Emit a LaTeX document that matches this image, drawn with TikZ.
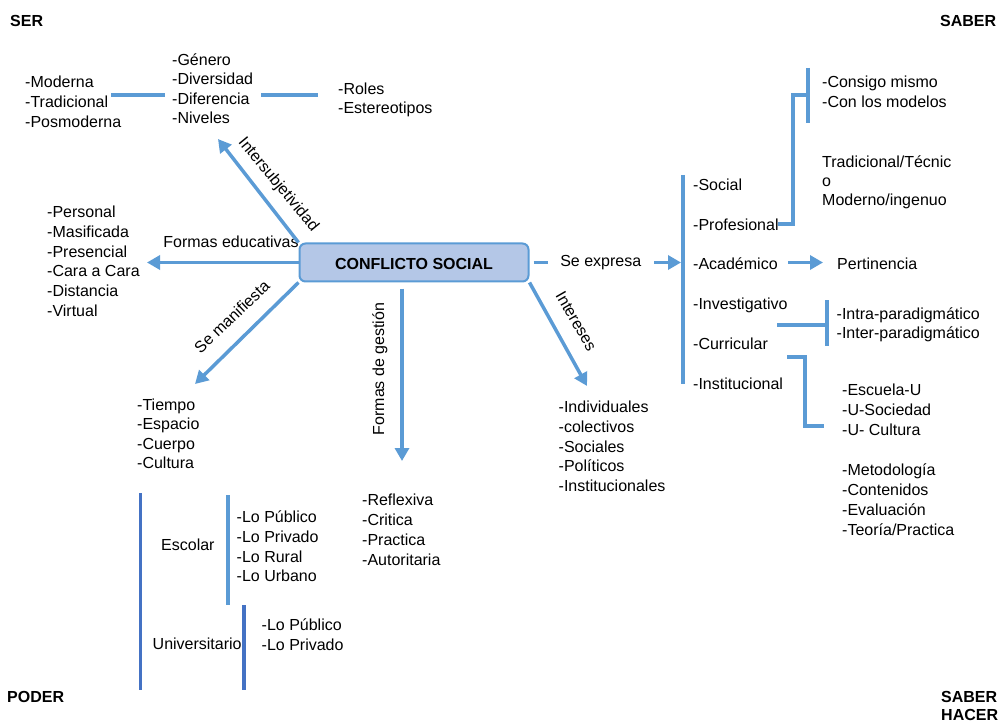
\documentclass[tikz,border=0pt]{standalone}
\usepackage{fontspec}
\setmainfont{Liberation Sans}
\usetikzlibrary{arrows.meta,calc}
\definecolor{bl}{HTML}{5B9BD5}
\definecolor{dbl}{HTML}{4472C4}
\definecolor{boxfill}{HTML}{B4C7E7}
\begin{document}
\begin{tikzpicture}[x=1pt,y=-1pt,
  txt/.style={font=\fontsize{16}{19.8}\selectfont, inner sep=0pt, anchor=north west, align=left},
  tgt/.style={font=\fontsize{16}{19.3}\selectfont, inner sep=0pt, anchor=north west, align=left},
  hd/.style={font=\fontsize{16}{18.3}\selectfont\bfseries, inner sep=0pt, anchor=north west, align=left},
  lbl/.style={font=\fontsize{16}{19.8}\selectfont, inner sep=0pt, text height=11.5pt, text depth=3.5pt},
  arr/.style={draw=bl, line width=3.5pt, -{Triangle[length=13pt,width=14pt]}},
  ln/.style={draw=bl, line width=3.5pt},
  dln/.style={draw=dbl, line width=3.5pt},
  cbox/.style={draw=bl, line width=2pt, fill=boxfill, rounded corners=6pt, minimum width=229pt, minimum height=38pt, inner sep=0pt, text height=14.5pt, text depth=0pt, font=\fontsize{16}{19}\selectfont\bfseries}
]
\useasboundingbox (0,0) rectangle (999,722);

% corner headings
\node[hd] (ser) at (10,13) {\strut SER};
\node[hd] (saber) at (940,13) {\strut SABER};
\node[hd] (poder) at (7,689.5) {\strut PODER};
\node[hd] (sh) at (941,689) {\strut SABER\\HACER};

% central box
\node[cbox] (box) at (414,262.5) {CONFLICTO SOCIAL};

% text blocks
\node[txt] (modern) at (25,73.5) {\strut -Moderna\\-Tradicional\\-Posmoderna};
\node[tgt] (genero) at (172,51.8) {\strut -Género\\-Diversidad\\-Diferencia\\-Niveles};
\node[txt] (roles) at (338,80) {\strut -Roles\\-Estereotipos};
\node[txt] (personal) at (47,203.5) {\strut -Personal\\-Masificada\\-Presencial\\-Cara a Cara\\-Distancia\\-Virtual};
\node[tgt] (tiempo) at (137,396.8) {\strut -Tiempo\\-Espacio\\-Cuerpo\\-Cultura};
\node[txt] (reflex) at (362,491.8) {\strut -Reflexiva\\-Critica\\-Practica\\-Autoritaria};
\node[txt] (indiv) at (558.5,398.5) {\strut -Individuales\\-colectivos\\-Sociales\\-Políticos\\-Institucionales};

\node[txt] (social) at (693,176.8) {\strut -Social};
\node[txt] (prof) at (693,216) {\strut -Profesional};
\node[txt] (acad) at (693,255.8) {\strut -Académico};
\node[txt] (inv) at (693,295) {\strut -Investigativo};
\node[txt] (curr) at (693,335.8) {\strut -Curricular};
\node[txt] (inst) at (693,375.8) {\strut -Institucional};

\node[txt] (consigo) at (822,73.5) {\strut -Consigo mismo\\-Con los modelos};
\node[tgt] (trad) at (822,153.5) {\strut Tradicional/Técnic\\o\\Moderno/ingenuo};
\node[txt] (pert) at (837,255.8) {\strut Pertinencia};
\node[txt] (intra) at (836.5,305.1) {\strut -Intra-paradigmático\\-Inter-paradigmático};
\node[txt] (escuela) at (842,381.8) {\strut -Escuela-U\\-U-Sociedad\\-U- Cultura};
\node[txt] (metod) at (842,461.8) {\strut -Metodología\\-Contenidos\\-Evaluación\\-Teoría/Practica};

\node[txt] (escolar) at (161,536.8) {\strut Escolar};
\node[txt] (lopub) at (236.5,508.5) {\strut -Lo Público\\-Lo Privado\\-Lo Rural\\-Lo Urbano};
\node[txt] (univ) at (152.5,635.1) {\strut Universitario};
\node[txt] (lopubb) at (261.5,616.8) {\strut -Lo Público\\-Lo Privado};

% arrow labels
\node[lbl, rotate=-50.5] (lIS) at (278,185) {Intersubjetividad};
\node[lbl] (lFE) at (231,244) {Formas educativas};
\node[lbl, rotate=43.6] (lSM) at (233,318) {Se manifiesta};
\node[lbl, rotate=90] (lFG) at (380,369) {Formas de gestión};
\node[lbl, rotate=-60] (lIN) at (575,322) {Intereses};

% coordinates
\coordinate (tIS) at (218,139);
\coordinate (tFE) at (147,262.5);
\coordinate (tSM) at (195,384);
\coordinate (tFG) at (402,461);
\coordinate (tIN) at (587,386);
\coordinate (tSE) at (681,262.5);
\coordinate (mA) at (111,95);
\coordinate (mB) at (165,95);
\coordinate (gA) at (261,95);
\coordinate (gB) at (318,95);
\coordinate (bigA) at (683,175);
\coordinate (bigB) at (683,384);
\coordinate (prA) at (778,224);
\coordinate (prB) at (808,95);
\coordinate (prBarA) at (808,68);
\coordinate (prBarB) at (808,123.5);
\coordinate (acA) at (788,262.5);
\coordinate (acB) at (823,262.5);
\coordinate (inA) at (777,325);
\coordinate (inB) at (827,325);
\coordinate (inBarA) at (827,300);
\coordinate (inBarB) at (827,345.5);
\coordinate (cuA) at (787,357);
\coordinate (cuB) at (824,426);
\coordinate (poA) at (140.5,493);
\coordinate (poB) at (140.5,690);
\coordinate (esA) at (228,495);
\coordinate (esB) at (228,605);
\coordinate (unA) at (244,605);
\coordinate (unB) at (244,690);

% connectors from the box
\draw[arr] (box.north west) -- (tIS);
\draw[arr] (box.west) -- (tFE);
\draw[arr] (box.south west) -- (tSM);
\draw[arr] ([xshift=-12pt,yshift=-6pt]box.south) -- (tFG);
\draw[arr] (box.south east) -- (tIN);
\draw[arr] ([xshift=4pt]box.east) -- node[lbl, fill=white, inner xsep=12.5pt, pos=0.456] (lSE) {Se expresa} (tSE);

% other connectors
\draw[ln] (mA) -- (mB);
\draw[ln] (gA) -- (gB);
\draw[ln] (bigA) -- (bigB);
\draw[ln] (prA) -- ++(15,0) |- (prB);
\draw[ln] (prBarA) -- (prBarB);
\draw[arr] (acA) -- (acB);
\draw[ln] (inA) -- (inB);
\draw[ln] (inBarA) -- (inBarB);
\draw[ln] (cuA) -- ++(18,0) |- (cuB);
\draw[dln] (poA) -- (poB);
\draw[ln] (esA) -- (esB);
\draw[dln] (unA) -- (unB);
\end{tikzpicture}
\end{document}
